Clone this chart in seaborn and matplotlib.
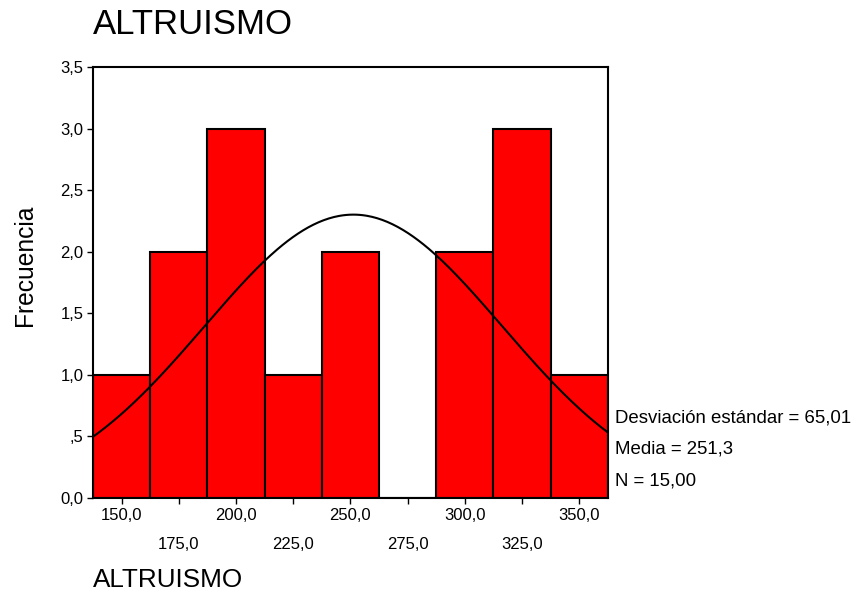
import numpy as np
import pandas as pd
import matplotlib
matplotlib.use("Agg")
import matplotlib.pyplot as plt
import seaborn as sns

# Data
bin_centers = [150, 175, 200, 225, 250, 275, 300, 325, 350]
counts = [1, 2, 3, 1, 2, 0, 2, 3, 1]
bin_width = 25
std_dev = 65.01
mean = 251.3
n_total = 15
y_ticks = [0.0, 0.5, 1.0, 1.5, 2.0, 2.5, 3.0, 3.5]
y_tick_labels = ["0,0", ",5", "1,0", "1,5", "2,0", "2,5", "3,0", "3,5"]
x_major = [150, 200, 250, 300, 350]
x_major_labels = ["150,0", "200,0", "250,0", "300,0", "350,0"]
x_minor = [175, 225, 275, 325]
x_minor_labels = ["175,0", "225,0", "275,0", "325,0"]

sns.set_theme(style="white")
plt.rcParams['font.family'] = ['Liberation Sans', 'DejaVu Sans']
plt.rcParams['text.color'] = 'black'
plt.rcParams['xtick.color'] = 'black'
plt.rcParams['ytick.color'] = 'black'

fig = plt.figure(figsize=(8.58, 5.93), dpi=100)
ax = fig.add_axes([0.1084, 0.1602, 0.600, 0.7268])

df = pd.DataFrame({"ALTRUISMO": bin_centers, "count": counts})
lo = bin_centers[0] - bin_width / 2
hi = bin_centers[-1] + bin_width / 2
sns.histplot(data=df, x="ALTRUISMO", weights="count", binwidth=bin_width, binrange=(lo, hi),
             color="#ff0000", alpha=1, edgecolor="black", linewidth=1.5, ax=ax)

# Fitted normal curve (SPSS style)
xs = np.linspace(lo, hi, 300)
ys = n_total * bin_width * np.exp(-0.5 * ((xs - mean) / std_dev) ** 2) / (std_dev * np.sqrt(2 * np.pi))
sns.lineplot(x=xs, y=ys, color="black", linewidth=1.5, ax=ax)

ax.set_xlim(lo, hi)
ax.set_ylim(0, 3.5)
ax.set_yticks(y_ticks)
ax.set_yticklabels(y_tick_labels, fontsize=12, color="black")
ax.set_xticks(x_major)
ax.set_xticklabels(x_major_labels, fontsize=12, color="black")
ax.set_xticks(x_minor, minor=True)
ax.set_xticklabels(x_minor_labels, minor=True, fontsize=12, color="black")
ax.tick_params(axis="x", which="major", direction="out", length=4, width=1, pad=3, bottom=True, color="black")
ax.tick_params(axis="x", which="minor", direction="out", length=4, width=1, pad=24, bottom=True, color="black")
ax.tick_params(axis="y", direction="out", length=4, width=1, pad=3, left=True, color="black")
ax.set_xlabel("")
ax.set_ylabel("")
for s in ax.spines.values():
    s.set_visible(True)
    s.set_color("black")
    s.set_linewidth(1.5)

fig.text(0.108, 1 - 25 / 593, "ALTRUISMO", fontsize=25, ha="left", va="center", color="black")
fig.text(0.108, 0.022, "ALTRUISMO", fontsize=18.8, ha="left", va="center", color="black")
fig.text(0.029, 0.553, "Frecuencia", fontsize=17.7, rotation=90, ha="center", va="center", color="black")
fig.text(0.717, 1 - 418 / 593, "Desviación estándar = 65,01", fontsize=13.4, ha="left", va="center", color="black")
fig.text(0.717, 1 - 449 / 593, "Media = 251,3", fontsize=13.4, ha="left", va="center", color="black")
fig.text(0.717, 1 - 481 / 593, "N = 15,00", fontsize=13.4, ha="left", va="center", color="black")

fig.savefig("out.png", dpi=100)
